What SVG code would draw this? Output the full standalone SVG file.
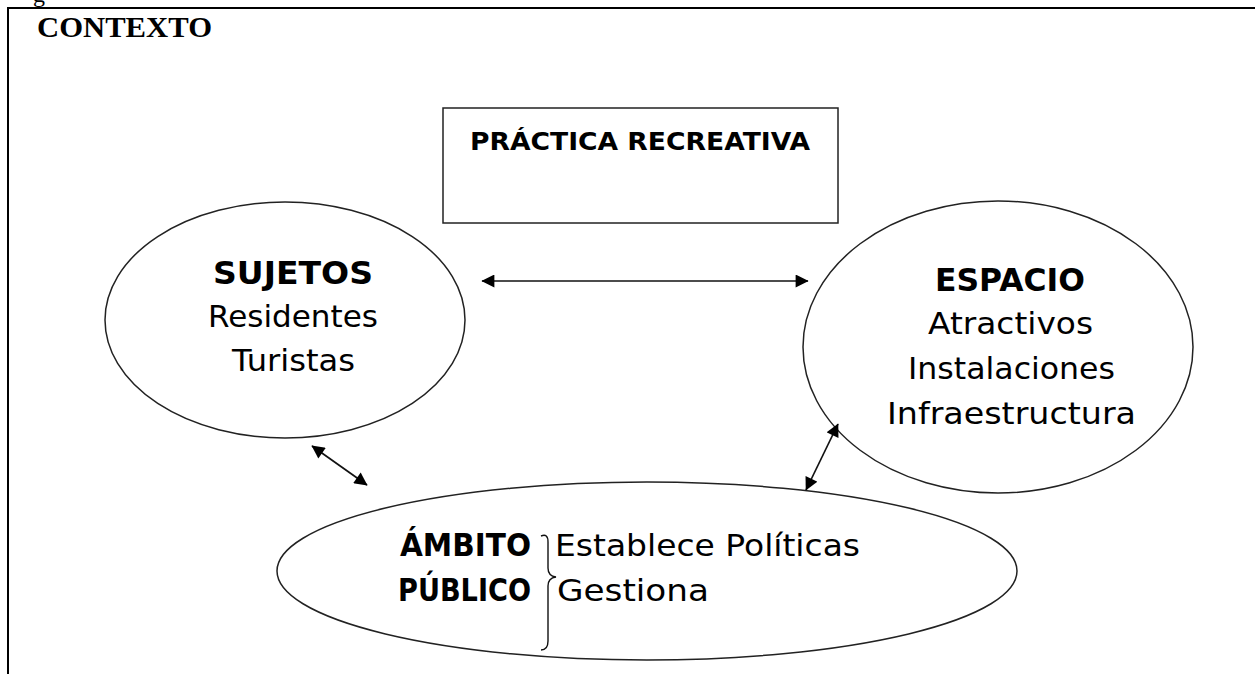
<svg xmlns="http://www.w3.org/2000/svg" width="1255" height="674" viewBox="0 0 1255 674">
  <style>
    .shape { fill: #fff; stroke: #222; stroke-width: 1.5; }
    .frame { fill: none; stroke: #000; stroke-width: 2; }
    .h { font-family: "DejaVu Sans", "Liberation Sans", sans-serif; font-weight: bold; fill: #000; }
    .t { font-family: "DejaVu Sans", "Liberation Sans", sans-serif; fill: #000; }
    .conn { stroke: #111; stroke-width: 1.7; fill: none; marker-start: url(#ah); marker-end: url(#ah); }
  </style>
  <defs>
    <marker id="ah" viewBox="0 0 10 10" refX="9.5" refY="5" markerWidth="15" markerHeight="13" markerUnits="userSpaceOnUse" orient="auto-start-reverse">
      <path d="M0,0 L10,5 L0,10 z" fill="#000"/>
    </marker>
  </defs>
  <rect width="1255" height="674" fill="#fff"/>

  <g id="frame">
    <text x="33" y="2" font-family="Liberation Serif, serif" font-size="24" fill="#000">g</text>
    <path class="frame" d="M1255,8 H8 V674"/>
    <text x="37" y="37" font-family="Liberation Serif, serif" font-weight="bold" font-size="29" textLength="175" lengthAdjust="spacingAndGlyphs" fill="#000">CONTEXTO</text>
  </g>

  <g id="practica">
    <rect class="shape" x="443" y="108" width="395" height="115"/>
    <text class="h" x="470" y="150" font-size="25" textLength="340" lengthAdjust="spacingAndGlyphs">PRÁCTICA RECREATIVA</text>
  </g>

  <g id="sujetos">
    <ellipse class="shape" cx="285" cy="320" rx="180" ry="118"/>
    <text class="h" x="213" y="284" font-size="32" textLength="160" lengthAdjust="spacingAndGlyphs">SUJETOS</text>
    <text class="t" x="208" y="327" font-size="31" textLength="170" lengthAdjust="spacingAndGlyphs">Residentes</text>
    <text class="t" x="232" y="371" font-size="31" textLength="123" lengthAdjust="spacingAndGlyphs">Turistas</text>
  </g>

  <g id="espacio">
    <ellipse class="shape" cx="998" cy="347" rx="195" ry="146"/>
    <text class="h" x="935" y="291" font-size="32" textLength="150" lengthAdjust="spacingAndGlyphs">ESPACIO</text>
    <text class="t" x="928" y="334" font-size="31" textLength="165" lengthAdjust="spacingAndGlyphs">Atractivos</text>
    <text class="t" x="908" y="379" font-size="31" textLength="207" lengthAdjust="spacingAndGlyphs">Instalaciones</text>
    <text class="t" x="887" y="424" font-size="31" textLength="249" lengthAdjust="spacingAndGlyphs">Infraestructura</text>
  </g>

  <g id="ambito">
    <ellipse class="shape" cx="647" cy="571" rx="370" ry="89"/>
    <text class="h" x="400" y="556" font-size="32" textLength="131" lengthAdjust="spacingAndGlyphs">ÁMBITO</text>
    <text class="h" x="398" y="601" font-size="32" textLength="133" lengthAdjust="spacingAndGlyphs">PÚBLICO</text>
    <path d="M541,536 Q548,533 548,542 V568 Q548,576 556,577 Q548,578 548,586 V641 Q548,650 541,650" fill="none" stroke="#111" stroke-width="1.4"/>
    <text class="t" x="555" y="556" font-size="31" textLength="305" lengthAdjust="spacingAndGlyphs">Establece Políticas</text>
    <text class="t" x="557" y="601" font-size="31" textLength="152" lengthAdjust="spacingAndGlyphs">Gestiona</text>
  </g>

  <g id="connectors">
    <line class="conn" x1="482" y1="281" x2="808" y2="281"/>
    <line class="conn" x1="312" y1="446" x2="367" y2="485"/>
    <line class="conn" x1="838" y1="424" x2="806" y2="490"/>
  </g>
</svg>
